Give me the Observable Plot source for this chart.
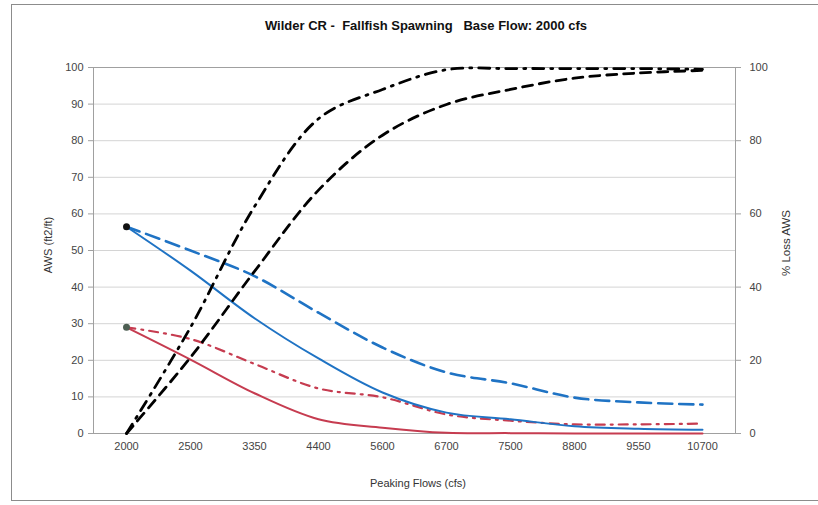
<!DOCTYPE html>
<html>
<head>
<meta charset="utf-8">
<script src="https://cdn.jsdelivr.net/npm/d3@7"></script>
<script src="https://cdn.jsdelivr.net/npm/@observablehq/plot@0.6"></script>
<style>
  html, body { margin: 0; padding: 0; background: #fff; }
  #wrap { position: relative; width: 818px; height: 505px; overflow: hidden; font-family: "Liberation Sans", Arial, sans-serif; }
  #border { position: absolute; left: 11px; top: 4px; width: 900px; height: 497px; border: 1px solid #8c8c8c; box-sizing: border-box; }
  .lbl { position: absolute; color: #333; font-size: 11px; white-space: nowrap; }
  #title { position: absolute; left: 0; width: 852px; top: 18px; text-align: center; font-weight: bold; font-size: 13px; color: #111; }
  #chart { position: absolute; left: 0; top: 0; }
</style>
</head>
<body>
<div id="wrap">
  <div id="border"></div>
  <div id="chart"></div>
  <div id="title">Wilder CR -&nbsp; Fallfish Spawning&nbsp;&nbsp; Base Flow: 2000 cfs</div>
  <div class="lbl" id="ylab" style="left:48px; top:245px; transform: translate(-50%,-50%) rotate(-90deg);">AWS (ft2/ft)</div>
  <div class="lbl" id="y2lab" style="left:786px; top:243px; transform: translate(-50%,-50%) rotate(-90deg); font-size:11.5px;">% Loss AWS</div>
  <div class="lbl" id="xlab" style="left:418px; top:483px; transform: translate(-50%,-50%);">Peaking Flows (cfs)</div>
</div>
<script>
// ---- data ----
const categories = ["2000","2500","3350","4400","5600","6700","7500","8800","9550","10700"];
const awsBlueSolid  = [56.5, 44.5, 31.5, 20.5, 11.2, 5.7, 3.9, 2.0, 1.3, 1.0];
const awsBlueDashed = [56.5, 50.0, 43.0, 33.0, 23.5, 16.7, 13.7, 9.8, 8.5, 7.9];
const awsRedSolid   = [29.0, 20.2, 11.0, 3.9, 1.6, 0.2, 0.1, 0.0, 0.0, 0.0];
const awsRedDashDot = [29.0, 25.8, 19.0, 12.3, 9.9, 5.2, 3.5, 2.5, 2.5, 2.7];
const lossDashed    = [0, 20.8, 44.3, 66.5, 81.5, 89.9, 94.0, 97.1, 98.5, 99.2];
const lossDashDot   = [0, 29.0, 62.0, 86.0, 94.0, 99.4, 99.7, 99.7, 99.7, 99.5];
const leftTicks  = [0,10,20,30,40,50,60,70,80,90,100];
const rightTicks = [0,20,40,60,80,100];

const rows = (vals) => categories.map((c, i) => ({cat: c, v: vals[i]}));

const blue = "#1f73c4";
const red = "#c63c50";
const curve = "catmull-rom";

const plot = Plot.plot({
  width: 818,
  height: 505,
  marginLeft: 93,
  marginRight: 83,
  marginTop: 67,
  marginBottom: 72,
  style: {fontFamily: "Liberation Sans, Arial, sans-serif", fontSize: "11px", color: "#444", background: "transparent"},
  x: {type: "point", domain: categories, padding: 0.5, label: null},
  y: {domain: [0, 100], label: null},
  marks: [
    Plot.gridY(leftTicks, {stroke: "#d4d4d4", strokeOpacity: 1}),
    Plot.frame({stroke: "#a0a0a0"}),
    Plot.axisY(leftTicks, {anchor: "left", tickSize: 5, tickPadding: 5, label: null, stroke: "#a0a0a0"}),
    Plot.axisY(rightTicks, {anchor: "right", tickSize: 5, tickPadding: 9, label: null, stroke: "#a0a0a0"}),
    Plot.axisX(categories, {anchor: "bottom", tickSize: 0, tickPadding: 9, label: null}),
    Plot.lineY(rows(awsBlueDashed), {x: "cat", y: "v", stroke: blue, strokeWidth: 2.6, strokeDasharray: "14,7", curve}),
    Plot.lineY(rows(awsRedDashDot), {x: "cat", y: "v", stroke: red, strokeWidth: 2.2, strokeDasharray: "9,6,2,6", curve}),
    Plot.lineY(rows(awsRedSolid), {x: "cat", y: "v", stroke: red, strokeWidth: 2, curve}),
    Plot.lineY(rows(awsBlueSolid), {x: "cat", y: "v", stroke: blue, strokeWidth: 2, curve}),
    Plot.lineY(rows(lossDashed), {x: "cat", y: "v", stroke: "#000", strokeWidth: 2.8, strokeDasharray: "10,7", curve}),
    Plot.lineY(rows(lossDashDot), {x: "cat", y: "v", stroke: "#000", strokeWidth: 2.8, strokeDasharray: "11,7,2,7", curve}),
    Plot.dot(rows(awsBlueSolid).slice(0, 1), {x: "cat", y: "v", r: 3.5, fill: "#111", stroke: "none"}),
    Plot.dot(rows(awsRedSolid).slice(0, 1), {x: "cat", y: "v", r: 3.5, fill: "#4d5e52", stroke: "none"})
  ]
});
document.getElementById("chart").appendChild(plot);
</script>
</body>
</html>
